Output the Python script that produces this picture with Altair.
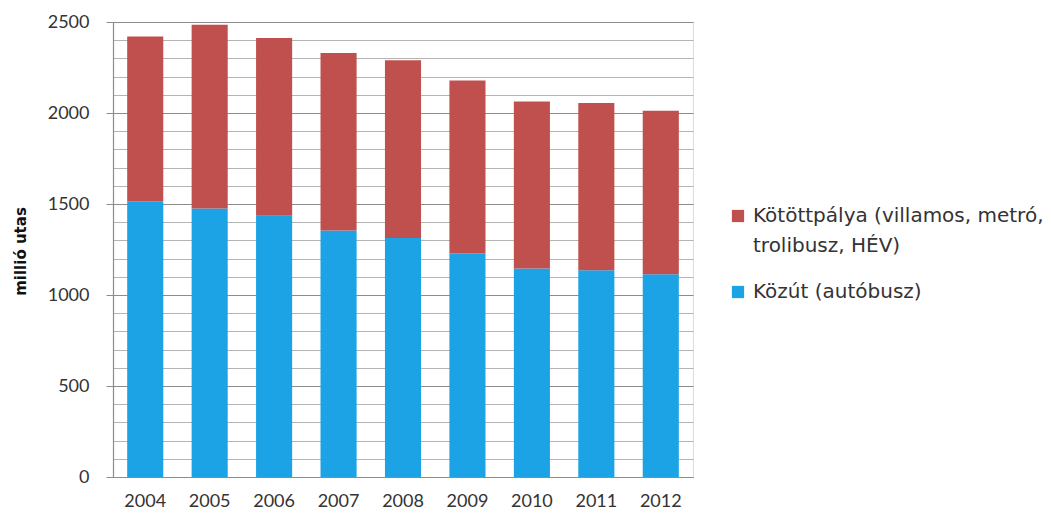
import altair as alt
import pandas as pd

years = ["2004", "2005", "2006", "2007", "2008", "2009", "2010", "2011", "2012"]
kozut = [1515, 1475, 1435, 1355, 1313, 1228, 1146, 1136, 1114]
totals = [2420, 2485, 2412, 2330, 2290, 2178, 2063, 2055, 2013]
kotott = [t - k for t, k in zip(totals, kozut)]

RED_LABEL = "Kötöttpálya (villamos, metró, trolibusz, HÉV)"
BLUE_LABEL = "Közút (autóbusz)"
series = [RED_LABEL, BLUE_LABEL]
colors = ["#c0504d", "#1ba3e6"]

rows = []
for y, k, r in zip(years, kozut, kotott):
    rows.append({"year": y, "series": BLUE_LABEL, "value": k, "ord": 0})
    rows.append({"year": y, "series": RED_LABEL, "value": r, "ord": 1})
df = pd.DataFrame(rows)

FONT = "Lato"
LFONT = "DejaVu Sans"

chart = alt.Chart(df).mark_bar().encode(
    x=alt.X("year:N", sort=years,
            scale=alt.Scale(paddingInner=0.44, paddingOuter=0.22),
            axis=alt.Axis(title=None, labelAngle=0, labelFontSize=18, labelFont=FONT,
                          labelColor="#333333", labelPadding=15, ticks=False,
                          domainColor="#8c8c8c", domainWidth=1.2, grid=False)),
    y=alt.Y("value:Q", stack="zero",
            scale=alt.Scale(domain=[0, 2500], nice=False),
            axis=alt.Axis(title="millió utas", titleFont=LFONT, titleFontSize=15,
                          titleFontWeight="bold", titleColor="#111111",
                          titleX=-93, titleY=229, titleBaseline="middle", titleAlign="center",
                          values=list(range(0, 2501, 100)), format="d",
                          labelExpr="datum.value % 500 == 0 ? datum.label : ''",
                          labelFont=FONT, labelFontSize=18, labelColor="#333333",
                          labelPadding=17,
                          tickSize={"condition": {"test": "datum.value % 500 == 0", "value": 7}, "value": 0},
                          tickColor="#8c8c8c",
                          gridColor={"condition": {"test": "datum.value % 500 == 0", "value": "#8c8c8c"}, "value": "#b4b4b4"},
                          gridWidth=1,
                          domainColor="#8c8c8c", domainWidth=1.2)),
    color=alt.Color("series:N", scale=alt.Scale(domain=series, range=colors),
                    legend=alt.Legend(title=None, orient="none", legendX=615, legendY=184,
                                      padding=0,
                                      labelFont=LFONT, labelFontSize=20, labelColor="#333333",
                                      labelOffset=5,
                                      symbolType="square", symbolSize=150, symbolStrokeWidth=0,
                                      rowPadding=26, labelLimit=400,
                                      labelExpr="datum.label == '" + RED_LABEL + "' ? ['Kötöttpálya (villamos, metró,', 'trolibusz, HÉV)'] : datum.label")),
    order=alt.Order("ord:Q", sort="ascending"),
).properties(
    width=580, height=455,
    autosize=alt.AutoSizeParams(type="none"),
    padding={"left": 113, "top": 22, "right": 358, "bottom": 44},
).configure_view(stroke=None).configure(
    background="white",
    style={"guide-label": {"lineHeight": 30}},
)

chart.save("out.html", embed_options={"renderer": "svg", "actions": False})
